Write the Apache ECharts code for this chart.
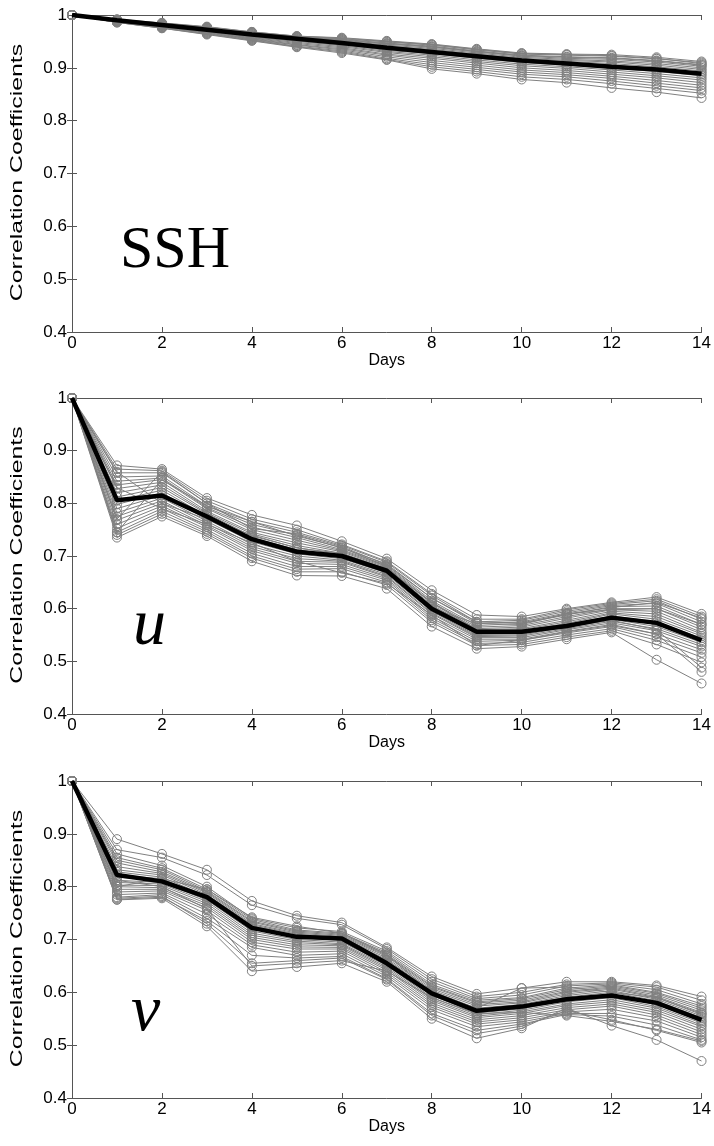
<!DOCTYPE html>
<html><head><meta charset="utf-8">
<script src="https://cdn.jsdelivr.net/npm/echarts@6/dist/echarts.min.js"></script>
<style>html,body{margin:0;padding:0;background:#fff}#c{width:714px;height:1146px}</style>
</head><body><div id="c"></div>
<script>
const days = [0,1,2,3,4,5,6,7,8,9,10,11,12,13,14];
const xTicks = [0,2,4,6,8,10,12,14];
const yTicks = [0.4,0.5,0.6,0.7,0.8,0.9,1];
const panelLabels = ['SSH','u','v'];
const xName = 'Days';
const yName = 'Correlation Coefficients';

const sshMean = [1,.990,.981,.972,.963,.955,.947,.938,.930,.922,.914,.908,.902,.897,.889];
const sshMembers = [
 [1,.992,.985,.978,.968,.960,.957,.951,.945,.936,.928,.926,.925,.920,.912],
 [1,.991,.984,.977,.967,.959,.955,.949,.943,.934,.926,.924,.922,.917,.910],
 [1,.991,.985,.977,.968,.960,.956,.950,.944,.935,.927,.925,.923,.918,.908],
 [1,.991,.984,.976,.966,.958,.954,.947,.941,.932,.924,.921,.919,.914,.906],
 [1,.990,.984,.976,.966,.958,.953,.946,.940,.931,.923,.920,.918,.913,.905],
 [1,.990,.983,.975,.965,.957,.952,.945,.939,.930,.922,.918,.916,.911,.903],
 [1,.990,.983,.975,.964,.956,.951,.943,.937,.928,.920,.916,.913,.908,.900],
 [1,.990,.982,.974,.963,.955,.950,.941,.935,.926,.918,.914,.911,.905,.897],
 [1,.989,.982,.973,.962,.954,.948,.939,.933,.924,.916,.912,.908,.902,.894],
 [1,.989,.981,.973,.961,.953,.947,.937,.931,.922,.914,.910,.905,.899,.891],
 [1,.989,.981,.972,.960,.952,.945,.935,.929,.920,.912,.907,.902,.896,.888],
 [1,.988,.980,.971,.959,.951,.944,.933,.927,.918,.910,.905,.899,.893,.885],
 [1,.988,.980,.970,.958,.950,.942,.931,.924,.915,.907,.902,.896,.889,.881],
 [1,.988,.979,.969,.957,.948,.940,.929,.921,.912,.904,.899,.892,.885,.877],
 [1,.987,.978,.968,.956,.946,.938,.926,.918,.909,.900,.895,.888,.881,.872],
 [1,.987,.977,.967,.955,.944,.936,.924,.914,.905,.896,.891,.884,.876,.867],
 [1,.987,.977,.966,.954,.943,.934,.921,.910,.901,.892,.887,.880,.871,.862],
 [1,.986,.976,.965,.953,.941,.932,.918,.906,.897,.888,.883,.875,.866,.857],
 [1,.986,.975,.964,.952,.940,.930,.916,.902,.893,.883,.878,.870,.861,.852],
 [1,.986,.975,.963,.951,.939,.928,.915,.898,.889,.878,.872,.862,.854,.843]
];

const uMean = [1,.806,.815,.775,.732,.708,.700,.672,.600,.556,.556,.567,.583,.573,.540];
const uMembers = [
 [1,.872,.865,.810,.778,.758,.728,.695,.635,.588,.585,.600,.612,.622,.590],
 [1,.865,.862,.805,.770,.750,.722,.690,.628,.580,.580,.598,.610,.618,.585],
 [1,.858,.858,.800,.765,.745,.720,.688,.625,.575,.578,.595,.608,.615,.580],
 [1,.850,.852,.795,.760,.740,.715,.685,.620,.572,.575,.592,.606,.610,.575],
 [1,.842,.848,.792,.755,.735,.712,.682,.615,.568,.572,.588,.604,.605,.570],
 [1,.835,.845,.790,.750,.730,.710,.680,.612,.565,.568,.585,.600,.600,.565],
 [1,.828,.840,.785,.745,.725,.708,.678,.610,.562,.565,.582,.598,.595,.560],
 [1,.820,.835,.782,.742,.720,.705,.676,.607,.560,.562,.578,.595,.590,.555],
 [1,.812,.830,.780,.738,.716,.702,.674,.605,.558,.560,.575,.592,.585,.552],
 [1,.805,.825,.776,.735,.712,.700,.672,.603,.556,.558,.572,.590,.580,.548],
 [1,.798,.820,.772,.730,.708,.698,.670,.600,.553,.555,.570,.586,.575,.544],
 [1,.790,.815,.770,.727,.704,.695,.668,.598,.551,.552,.567,.583,.570,.540],
 [1,.782,.810,.766,.722,.700,.692,.665,.595,.549,.550,.565,.580,.566,.536],
 [1,.775,.805,.762,.718,.695,.690,.662,.592,.547,.548,.562,.576,.562,.532],
 [1,.768,.800,.758,.714,.690,.688,.660,.590,.545,.545,.560,.573,.558,.528],
 [1,.760,.795,.755,.710,.686,.684,.657,.586,.542,.542,.557,.570,.552,.522],
 [1,.752,.790,.750,.705,.680,.680,.654,.582,.538,.540,.554,.566,.546,.516],
 [1,.745,.785,.746,.700,.675,.676,.650,.578,.534,.536,.550,.562,.540,.508],
 [1,.740,.780,.742,.696,.670,.670,.645,.574,.530,.532,.546,.558,.532,.498],
 [1,.735,.775,.738,.690,.663,.662,.638,.566,.524,.528,.542,.555,.503,.458],
 [1,.860,.800,.770,.740,.715,.705,.675,.612,.560,.555,.565,.578,.560,.488],
 [1,.745,.845,.795,.765,.738,.716,.680,.600,.572,.570,.590,.602,.612,.582],
 [1,.830,.790,.760,.725,.690,.668,.648,.588,.530,.540,.556,.568,.552,.480],
 [1,.770,.860,.800,.752,.742,.718,.683,.620,.575,.573,.590,.598,.600,.570]
];

const vMean = [1,.822,.810,.780,.722,.705,.702,.655,.598,.565,.573,.587,.594,.580,.548];
const vMembers = [
 [1,.890,.862,.832,.773,.745,.732,.685,.630,.597,.608,.620,.620,.613,.592],
 [1,.870,.855,.822,.765,.740,.728,.682,.625,.592,.600,.615,.618,.610,.585],
 [1,.862,.840,.800,.740,.722,.715,.678,.620,.588,.595,.612,.616,.605,.578],
 [1,.855,.835,.795,.738,.718,.712,.675,.615,.585,.590,.608,.614,.600,.574],
 [1,.850,.832,.792,.735,.716,.710,.672,.612,.582,.588,.605,.612,.598,.570],
 [1,.845,.828,.790,.733,.714,.708,.670,.610,.580,.585,.602,.610,.595,.566],
 [1,.838,.825,.788,.730,.712,.706,.668,.607,.577,.582,.600,.608,.592,.562],
 [1,.832,.822,.785,.728,.710,.704,.665,.604,.574,.580,.597,.606,.590,.558],
 [1,.828,.818,.782,.726,.708,.702,.662,.602,.570,.577,.594,.603,.587,.555],
 [1,.822,.815,.780,.724,.706,.700,.660,.600,.567,.575,.591,.600,.584,.552],
 [1,.818,.812,.778,.720,.704,.698,.657,.597,.564,.572,.588,.597,.580,.548],
 [1,.812,.808,.775,.716,.700,.695,.654,.594,.561,.569,.585,.594,.577,.545],
 [1,.808,.805,.772,.712,.697,.692,.651,.590,.558,.566,.582,.590,.573,.542],
 [1,.803,.802,.768,.708,.694,.690,.648,.587,.555,.563,.578,.586,.570,.538],
 [1,.800,.798,.764,.704,.690,.688,.645,.584,.552,.560,.575,.582,.566,.535],
 [1,.795,.795,.760,.700,.686,.685,.642,.580,.548,.556,.571,.578,.562,.530],
 [1,.790,.792,.755,.695,.682,.682,.638,.576,.544,.552,.567,.574,.557,.525],
 [1,.785,.788,.748,.690,.676,.678,.634,.572,.540,.548,.563,.568,.552,.520],
 [1,.780,.785,.740,.685,.670,.673,.630,.567,.535,.544,.560,.560,.546,.515],
 [1,.776,.780,.735,.670,.665,.668,.626,.560,.528,.540,.558,.555,.538,.510],
 [1,.778,.782,.730,.655,.660,.665,.624,.556,.522,.536,.565,.548,.528,.505],
 [1,.775,.778,.725,.640,.648,.655,.620,.550,.513,.532,.570,.537,.510,.470],
 [1,.800,.815,.795,.742,.725,.712,.672,.598,.570,.608,.610,.600,.590,.560],
 [1,.812,.800,.758,.650,.655,.660,.640,.590,.560,.562,.556,.545,.530,.508]
];

const panels = [
  {mean: sshMean, members: sshMembers, top: 15, height: 317},
  {mean: uMean, members: uMembers, top: 398, height: 316},
  {mean: vMean, members: vMembers, top: 781, height: 317}
];

const FONT = 'Liberation Sans, Arial, sans-serif';
const SERIF = 'Liberation Serif, Times New Roman, serif';
const axisColor = '#555';
const grids = [], xAxes = [], yAxes = [], series = [], graphics = [];
panels.forEach((p, i) => {
  grids.push({left: 72, right: 8, top: p.top, height: p.height});
  xAxes.push({type:'value', gridIndex:i, min:0, max:14, interval:2, position:'bottom',
    name:xName, nameLocation:'middle', nameGap:21,
    nameTextStyle:{color:'#000', fontSize:16, fontFamily:FONT},
    axisLine:{lineStyle:{color:axisColor, width:1}},
    axisTick:{inside:true, length:5, lineStyle:{color:axisColor}},
    axisLabel:{color:'#000', fontSize:17, fontFamily:FONT, margin:3},
    splitLine:{show:false}});
  xAxes.push({type:'value', gridIndex:i, min:0, max:14, interval:2, position:'top',
    axisLine:{show:true, lineStyle:{color:axisColor, width:1}},
    axisTick:{show:true, inside:true, length:5, lineStyle:{color:axisColor}},
    axisLabel:{show:false}, splitLine:{show:false}});
  yAxes.push({type:'value', gridIndex:i, min:0.4, max:1, interval:0.1, position:'left',
    axisLine:{show:true, lineStyle:{color:axisColor, width:1}},
    axisTick:{show:true, inside:true, length:5, lineStyle:{color:axisColor}},
    axisLabel:{color:'#000', fontSize:17, fontFamily:FONT, margin:5,
      formatter: v => { const r = Math.round(v*10)/10; return r === 1 ? '1' : r.toFixed(1); }},
    splitLine:{show:false}});
  yAxes.push({type:'value', gridIndex:i, min:0.4, max:1, interval:0.1, position:'right',
    axisLine:{show:true, lineStyle:{color:axisColor, width:1}},
    axisTick:{show:true, inside:true, length:5, lineStyle:{color:axisColor}},
    axisLabel:{show:false}, splitLine:{show:false}});
  graphics.push({type:'text', x:18, y:p.top + p.height/2 - 1, rotation:Math.PI/2, scaleX:1.55,
    style:{text:yName, fontFamily:FONT, fontSize:16, fill:'#000', align:'center', verticalAlign:'middle'}});
  p.members.forEach(m => {
    series.push({type:'line', xAxisIndex:2*i, yAxisIndex:2*i,
      data: days.map((d,k)=>[d, m[k]]),
      symbol:'circle', symbolSize:9, showSymbol:true, clip:false,
      lineStyle:{color:'#808080', width:1},
      itemStyle:{color:'rgba(255,255,255,0)', borderColor:'#808080', borderWidth:1},
      emphasis:{disabled:true}, silent:true, z:2});
  });
  series.push({type:'line', xAxisIndex:2*i, yAxisIndex:2*i,
    data: days.map((d,k)=>[d, p.mean[k]]),
    symbol:'none', lineStyle:{color:'#000', width:4.5},
    emphasis:{disabled:true}, silent:true, z:5});
});

graphics.push(
  {type:'text', left:120, top:221, style:{text:panelLabels[0], fontFamily:SERIF, fontSize:60, fill:'#000'}},
  {type:'text', left:133, top:594, style:{text:panelLabels[1], fontFamily:SERIF, fontStyle:'italic', fontSize:66, fill:'#000'}},
  {type:'text', left:131, top:980, style:{text:panelLabels[2], fontFamily:SERIF, fontStyle:'italic', fontSize:66, fill:'#000'}}
);

const chart = echarts.init(document.getElementById('c'), null, {renderer:'canvas'});
chart.setOption({
  animation:false, backgroundColor:'#fff',
  grid:grids, xAxis:xAxes, yAxis:yAxes, series:series, graphic:graphics
});
</script></body></html>
